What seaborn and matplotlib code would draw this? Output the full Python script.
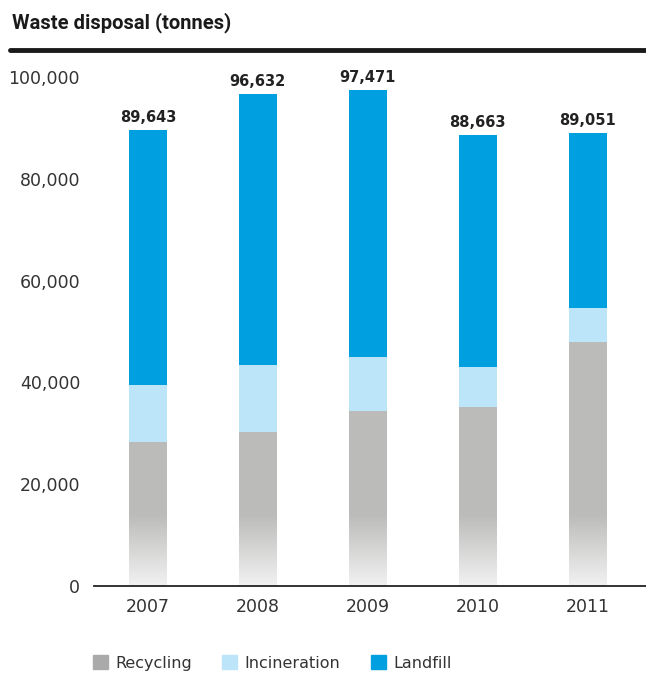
import numpy as np
import pandas as pd
import matplotlib
matplotlib.use("Agg")
import matplotlib.pyplot as plt
from matplotlib.patches import Patch
from matplotlib.colors import LinearSegmentedColormap
import seaborn as sns

years = ["2007", "2008", "2009", "2010", "2011"]
totals = [89643, 96632, 97471, 88663, 89051]
recycling = [28300, 30200, 34300, 35200, 48000]
incineration = [11200, 13200, 10700, 7800, 6600]
landfill = [t - r - i for t, r, i in zip(totals, recycling, incineration)]
series = ["Recycling", "Incineration", "Landfill"]

c_rec = "#bbbbba"
c_inc = "#bde5fa"
c_land = "#009fe0"

sns.set_theme(style="white")
plt.rcParams['font.family'] = ['DejaVu Sans']

df = pd.DataFrame({"year": years, "total": totals,
                   "rec_inc": [r + i for r, i in zip(recycling, incineration)],
                   "rec": recycling})

fig = plt.figure(figsize=(6.46, 6.75), dpi=100)
ax = fig.add_axes([0.1455, 0.1319, 0.8545, 0.7541])

w = 0.345
sns.barplot(data=df, x="year", y="total", color=c_land, width=w, ax=ax,
            saturation=1, linewidth=0)
sns.barplot(data=df, x="year", y="rec_inc", color=c_inc, width=w, ax=ax,
            saturation=1, linewidth=0)
sns.barplot(data=df, x="year", y="rec", color=c_rec, width=w, ax=ax,
            saturation=1, linewidth=0)

# gradient on lower part of recycling bars
cmap = LinearSegmentedColormap.from_list("g", [(0, "#f2f2f2"), (1, c_rec)])
rec_patches = ax.patches[-len(years):]
for p in rec_patches:
    x0 = p.get_x()
    pw = p.get_width()
    top = 14000
    grad = np.linspace(0, 1, 256).reshape(-1, 1)
    im = ax.imshow(grad, cmap=cmap, origin="lower", aspect="auto",
                   extent=[x0, x0 + pw, 0, top], zorder=p.get_zorder() + 0.1,
                   vmin=0, vmax=1, interpolation="bilinear")
    im.set_clip_path(p)

ax.set_xlim(-0.49, 4.53)
ax.set_ylim(0, 100000)
ax.set_yticks([0, 20000, 40000, 60000, 80000, 100000])
ax.set_yticklabels(["0", "20,000", "40,000", "60,000", "80,000", "100,000"])
ax.set_xlabel("")
ax.set_ylabel("")
ax.tick_params(axis="both", length=0, labelsize=12.5, colors="#333333")
ax.tick_params(axis="y", pad=10)
ax.tick_params(axis="x", pad=9)
for s in ["top", "right", "left"]:
    ax.spines[s].set_visible(False)
ax.spines["bottom"].set_color("#222222")
ax.spines["bottom"].set_linewidth(1.3)
ax.grid(False)

for i, t in enumerate(totals):
    ax.annotate(f"{t:,}", (i, t), xytext=(0, 3.5), textcoords="offset points",
                ha="center", va="bottom", fontsize=10.5, fontweight="bold",
                color="#222222")

fig.text(0.018, 0.967, "Waste disposal (tonnes)", fontsize=14.5, fontweight="bold",
         family=["Roboto", "DejaVu Sans"], color="#1a1a1a", va="center", ha="left")
fig.add_artist(plt.Line2D([0.015, 1.0], [0.926, 0.926], color="#1a1a1a",
                          linewidth=3.5, transform=fig.transFigure))

leg_colors = ["#aaaaaa", c_inc, c_land]
leg_x = [93 / 646, 222 / 646, 371 / 646]
for name, col, lx in zip(series, leg_colors, leg_x):
    leg = fig.legend(handles=[Patch(color=col, label=name)], loc="center left",
                     bbox_to_anchor=(lx, 0.018), frameon=False, fontsize=11.5,
                     handlelength=0.95, handleheight=0.95, handletextpad=0.45,
                     borderpad=0, borderaxespad=0)
    for t in leg.get_texts():
        t.set_color("#333333")

fig.savefig("out.png", dpi=100)
